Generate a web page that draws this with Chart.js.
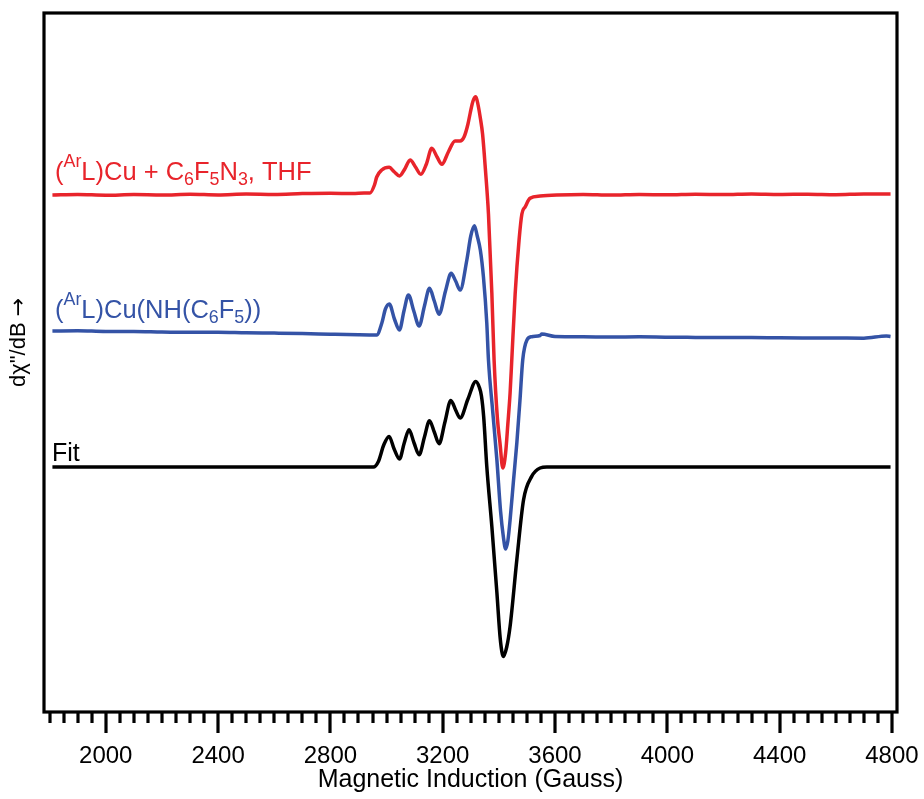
<!DOCTYPE html>
<html>
<head>
<meta charset="utf-8">
<script src="https://cdn.jsdelivr.net/npm/chart.js@4.4.0/dist/chart.umd.min.js"></script>
<style>
  body { margin: 0; background: #fff; }
  #wrap { width: 924px; height: 799px; }
</style>
</head>
<body>
<div id="wrap"><canvas id="epr"></canvas></div>
<script>
const FONT = '"Liberation Sans", Arial, Helvetica, sans-serif';

// field (G) and derivative signal above each trace's own baseline
const redField = [1810, 1900, 2000, 2100, 2200, 2300, 2400, 2500, 2600, 2700, 2800, 2880, 2920, 2941,
  2957, 2965, 2983, 3009, 3028, 3046, 3065, 3084, 3103, 3122, 3142, 3161, 3180, 3197, 3220, 3244,
  3262, 3276, 3290, 3298, 3308, 3318, 3326, 3334, 3342, 3352, 3363, 3375, 3383, 3395, 3404, 3414,
  3424, 3432, 3440, 3446, 3458, 3472, 3482, 3494, 3511, 3547, 3606, 3700, 3800, 3900, 4000, 4100,
  4200, 4300, 4400, 4500, 4600, 4700, 4795];
const redSignal = [-1, -0.5, -1.2, -0.6, -1, -0.3, -0.9, 0, -0.4, 0.4, 0.8, 0.4, 0.9, 1,
  9, 17, 24, 26.7, 22, 18, 25, 34, 27, 19.7, 30, 45.7, 37, 29.7, 42, 53,
  53, 57, 70, 81, 93, 97.3, 89, 76, 60, 25, -20, -99, -166, -225, -249, -274,
  -259, -230, -199, -166, -100, -46, -20, -12.7, -4.3, -2, -1, -0.4, -1.1, -0.5, -0.8, -0.2,
  -0.6, 0, -0.5, -0.2, -0.7, 0, 0];

const blueField = [1810, 1900, 2000, 2100, 2200, 2300, 2400, 2500, 2600, 2700, 2800, 2900, 2965,
  2983, 2996, 3010, 3028, 3046, 3062, 3078, 3097, 3116, 3135, 3153, 3170, 3187, 3210, 3230, 3246,
  3262, 3286, 3300, 3313, 3323, 3334, 3345, 3357, 3363, 3378, 3393, 3406, 3416, 3424, 3432, 3440,
  3452, 3464, 3475, 3485, 3500, 3517, 3547, 3553, 3600, 3700, 3800, 3900, 4000, 4100, 4200, 4300,
  4400, 4500, 4600, 4700, 4780, 4795];
const blueSignal = [0, 0.3, -0.5, -0.4, -1, -1.3, -1.2, -1.8, -2.1, -2.5, -3.2, -3.8, -4,
  7.7, 22, 27, 12, 1, 20, 36, 20, 5, 25, 42.7, 30, 16.7, 40, 57.7, 50,
  41, 71, 95, 105.3, 95, 81, 54.3, 8, -29, -80, -129, -180, -205.7, -218, -210, -189,
  -150, -112, -70, -29, -9, -5.7, -4.5, -3, -5.5, -5.8, -6, -5.8, -6.2, -6.4, -6.6, -6.5,
  -6.8, -6.9, -7, -7.2, -5, -5.5];

const fitField = [1810, 2953, 2971, 2990, 3009, 3027, 3046, 3063, 3080, 3098, 3116, 3135, 3153,
  3170, 3187, 3208, 3229, 3246, 3262, 3290, 3318, 3330, 3338, 3346, 3357, 3375, 3393, 3405, 3416,
  3428, 3440, 3464, 3488, 3517, 3547, 3571, 4795];
const fitSignal = [0, 0, 5.6, 22, 30.6, 18, 8, 24, 37.3, 24, 12.3, 30, 46.3,
  35, 23.3, 45, 66.6, 57, 49, 68, 85.6, 80, 71, 50, 0.6, -59.4, -125.7, -172, -189.4,
  -180, -159.4, -92.7, -32.7, -9.4, -1, 0, 0];

// vertical stacking of the three spectra
const redOffset = 518;
const blueOffset = 381;
const fitOffset = 245;

const tickLabels = [2000, 2400, 2800, 3200, 3600, 4000, 4400, 4800];
const minorStep = 50;
const firstTick = 1800;

function stack(field, signal, offset) {
  return field.map((x, i) => ({ x: x, y: offset + signal[i] }));
}

// draws text with super/subscripts, left to right from (x, y)
function drawRich(ctx, parts, x, y, size, color) {
  ctx.fillStyle = color;
  ctx.textBaseline = 'alphabetic';
  ctx.textAlign = 'left';
  for (const [text, kind] of parts) {
    const s = kind ? size * 0.7 : size;
    ctx.font = s + 'px ' + FONT;
    let dy = 0;
    if (kind === 'sup') dy = -size * 0.52;
    if (kind === 'sub') dy = size * 0.2;
    ctx.fillText(text, x, y + dy);
    x += ctx.measureText(text).width;
  }
}

const frame = {
  id: 'frame',
  afterDraw(chart) {
    const ctx = chart.ctx;
    const a = chart.chartArea;
    const xs = chart.scales.x;
    ctx.save();
    ctx.strokeStyle = '#000';
    ctx.lineWidth = 3.2;
    ctx.strokeRect(a.left, a.top, a.right - a.left, a.bottom - a.top);
    for (let v = firstTick; v <= 4800; v += minorStep) {
      const px = Math.round(xs.getPixelForValue(v));
      const len = tickLabels.includes(v) ? 21 : 11;
      ctx.beginPath();
      ctx.moveTo(px, a.bottom);
      ctx.lineTo(px, a.bottom + len);
      ctx.stroke();
    }

    drawRich(ctx, [['(', ''], ['Ar', 'sup'], ['L)Cu + C', ''], ['6', 'sub'], ['F', ''], ['5', 'sub'],
      ['N', ''], ['3', 'sub'], [', THF', '']], 55, 180, 25.5, '#e8242b');
    drawRich(ctx, [['(', ''], ['Ar', 'sup'], ['L)Cu(NH(C', ''], ['6', 'sub'], ['F', ''], ['5', 'sub'],
      ['))', '']], 55, 318, 25.5, '#3453a6');
    drawRich(ctx, [['Fit', '']], 52, 461, 25, '#000');

    // y axis label, arrow set in a face with a full-size arrow glyph
    ctx.translate(19, 387);
    ctx.rotate(-Math.PI / 2);
    ctx.fillStyle = '#000';
    ctx.textAlign = 'left';
    ctx.textBaseline = 'middle';
    ctx.font = '22px ' + FONT;
    const base = 'dχ"/dB ';
    ctx.fillText(base, 0, 0);
    const w = ctx.measureText(base).width;
    ctx.font = '22px "DejaVu Sans", sans-serif';
    ctx.fillText('→', w, 0);
    ctx.restore();
  }
};

new Chart(document.getElementById('epr'), {
  type: 'line',
  data: {
    datasets: [
      { label: 'Fit', data: stack(fitField, fitSignal, fitOffset), borderColor: '#000' },
      { label: '(ArL)Cu(NH(C6F5))', data: stack(blueField, blueSignal, blueOffset), borderColor: '#3453a6' },
      { label: '(ArL)Cu + C6F5N3, THF', data: stack(redField, redSignal, redOffset), borderColor: '#e8242b' }
    ]
  },
  options: {
    responsive: true,
    maintainAspectRatio: false,
    animation: false,
    layout: { padding: { left: 44, right: 27, top: 13, bottom: 0 } },
    plugins: { legend: { display: false }, tooltip: { enabled: false } },
    elements: {
      point: { radius: 0 },
      line: { borderWidth: 3.5, cubicInterpolationMode: 'monotone', fill: false }
    },
    scales: {
      x: {
        type: 'linear',
        min: 1780,
        max: 4818,
        grid: { display: false, drawTicks: false },
        border: { display: false },
        afterBuildTicks: s => { s.ticks = tickLabels.map(v => ({ value: v })); },
        afterFit: s => {
          s.height = 87;
          s.paddingLeft = 0;
          s.paddingRight = 0;
        },
        ticks: {
          padding: 30,
          maxRotation: 0,
          autoSkip: false,
          color: '#000',
          font: { size: 24, family: FONT },
          callback: v => String(v)
        },
        title: {
          display: true,
          text: 'Magnetic Induction (Gauss)',
          color: '#000',
          font: { size: 25, family: FONT },
          padding: { top: 0, bottom: 4 }
        }
      },
      y: { display: false, min: 0, max: 699 }
    }
  },
  plugins: [frame]
});
</script>
</body>
</html>
